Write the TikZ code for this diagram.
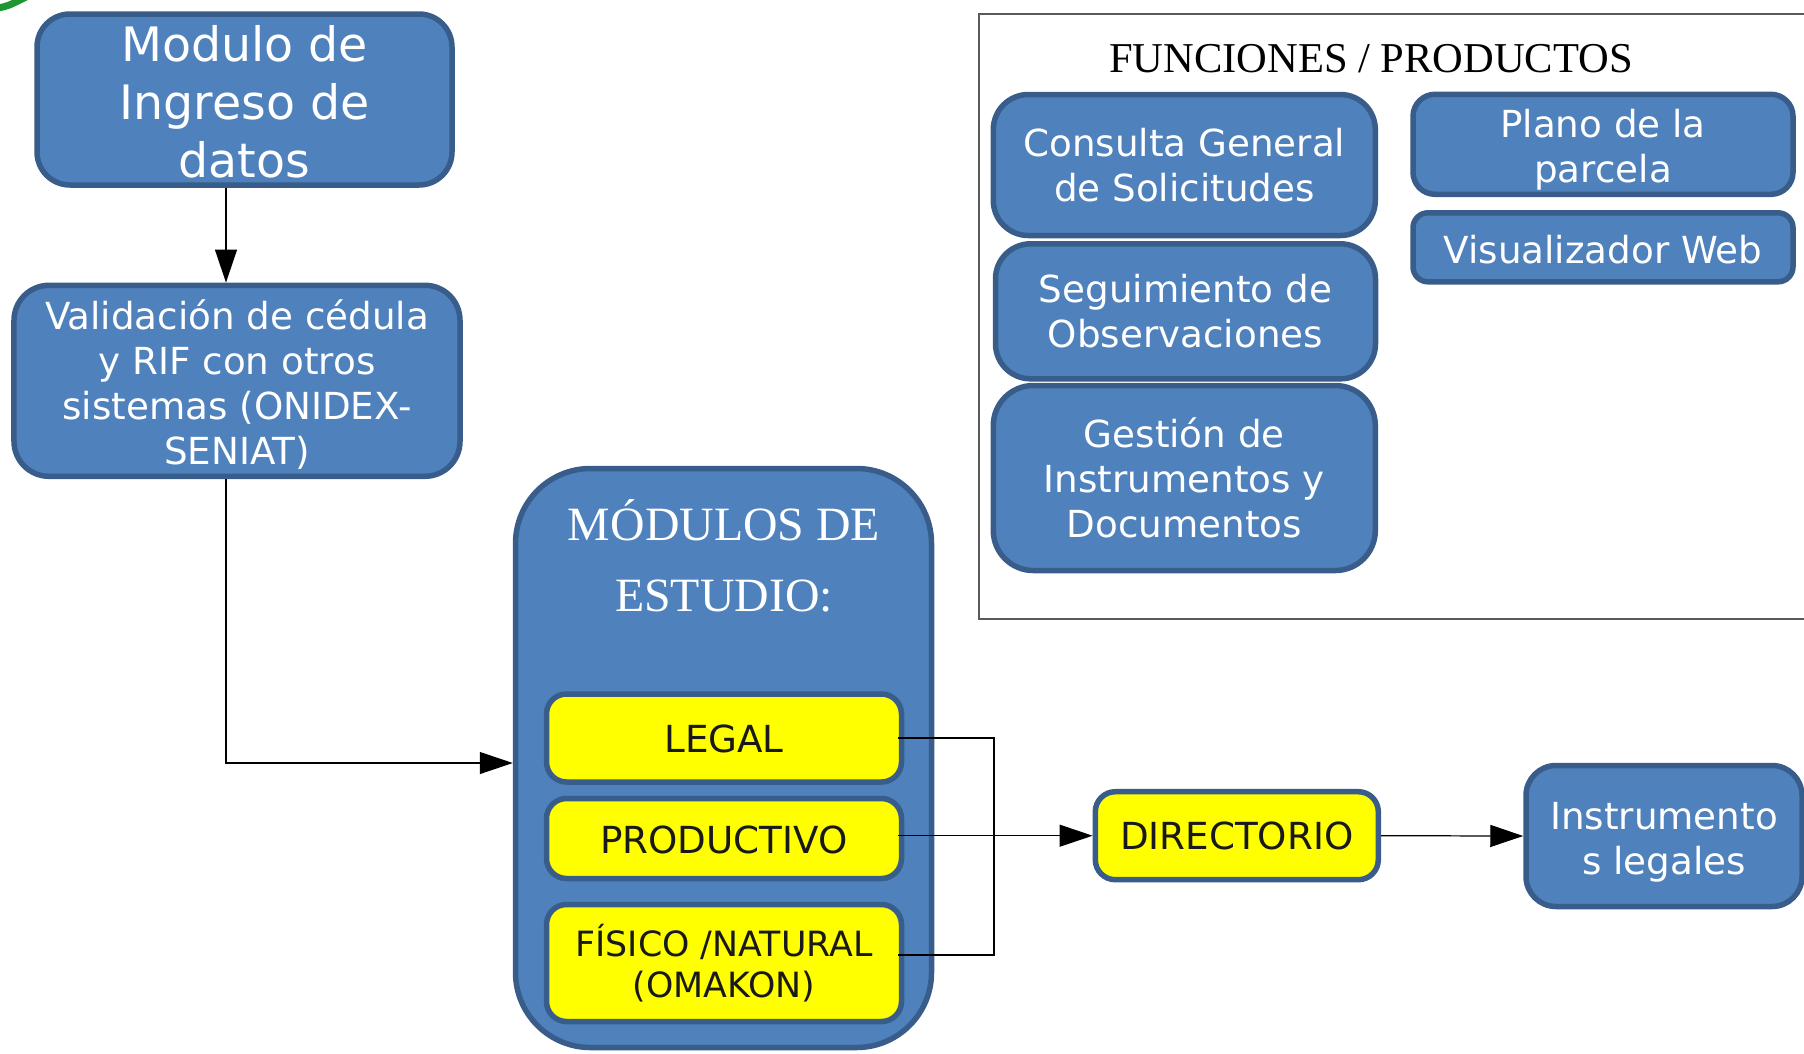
\documentclass[tikz,border=0pt]{standalone}
\usepackage{fontspec}
\setmainfont{DejaVu Sans}
\newfontfamily\titlefont{Liberation Serif}
\usetikzlibrary{arrows.meta}
\definecolor{boxblue}{RGB}{79,129,189}
\definecolor{boxedge}{RGB}{56,93,138}
\definecolor{boxyellow}{RGB}{255,255,0}
\definecolor{leafgreen}{RGB}{30,150,50}
% taller first line, pushes the text a little down in its box
\newcommand{\padtop}[1]{\rule{0pt}{#1}}

\begin{document}
\begin{tikzpicture}[x=1cm,y=-1cm,
	bluebox/.style={draw=boxedge,fill=boxblue,line width=0.055cm,text=white,align=center,inner sep=0pt,font=\fontsize{10.6}{12.8}\selectfont},
	yellowbox/.style={draw=boxedge,fill=boxyellow,line width=0.055cm,text=black!90,align=center,inner sep=0pt,rounded corners=0.2cm,font=\fontsize{10.6}{12.8}\selectfont},
	link/.style={line width=0.35pt,black},
	tip/.style={-{Triangle[length=0.33cm,width=0.22cm]}}
	]
	\useasboundingbox (0,0) rectangle (18.04,10.53);
	% bit of the green shape in the corner
	\draw[leafgreen,line width=0.07cm] (-0.02,0.08) .. controls (0.08,0.06) .. (0.26,-0.03);

	% left column
	\node[bluebox,rounded corners=0.33cm,minimum width=4.15cm,minimum height=1.71cm,font=\fontsize{13.5}{16.4}\selectfont] (ingreso) at (2.445,0.995) {\padtop{11.6pt}Modulo de\\Ingreso de\\datos};
	\node[bluebox,rounded corners=0.35cm,minimum width=4.46cm,minimum height=1.91cm] (valida) at (2.37,3.808) {\padtop{10.6pt}Validación de cédula\\y RIF con otros\\sistemas (ONIDEX-\\SENIAT)};
	\coordinate (trunk) at (2.26,0);

	% study modules
	\node[draw=boxedge,fill=boxblue,line width=0.055cm,rounded corners=0.75cm,minimum width=4.16cm,minimum height=5.79cm] (estudio) at (7.235,7.58) {};
	\node[text=white,align=center,font=\titlefont\fontsize{13.6}{20.2}\selectfont] (estudioTitle) at (7.24,5.56) {MÓDULOS DE\\ESTUDIO:};
	\node[yellowbox,minimum width=3.55cm,minimum height=0.88cm] (legal) at (7.24,7.38) {\padtop{8.6pt}LEGAL};
	\node[yellowbox,minimum width=3.55cm,minimum height=0.80cm] (prod) at (7.24,8.385) {\padtop{8.6pt}PRODUCTIVO};
	\node[yellowbox,minimum width=3.55cm,minimum height=1.17cm,font=\fontsize{9.9}{11.7}\selectfont] (fisico) at (7.24,9.63) {FÍSICO /NATURAL\\(OMAKON)};
	\coordinate (bus) at (9.94,0);

	\node[yellowbox,minimum width=2.83cm,minimum height=0.88cm] (directorio) at (12.368,8.357) {DIRECTORIO};
	\node[bluebox,rounded corners=0.3cm,minimum width=2.76cm,minimum height=1.41cm] (instr) at (16.64,8.36) {\padtop{11.4pt}Instrumento\\s legales};

	% functions / products panel
	\draw[black!65,line width=0.5pt] (18.04,0.14) -- (9.79,0.14) -- (9.79,6.19) -- (18.04,6.19);
	\node[anchor=base,font=\titlefont\fontsize{12.1}{14}\selectfont] (funcTitle) at (13.71,0.725) {FUNCIONES / PRODUCTOS};
	\node[bluebox,rounded corners=0.35cm,minimum width=3.82cm,minimum height=1.41cm] (consulta) at (11.843,1.65) {Consulta General\\de Solicitudes};
	\node[bluebox,rounded corners=0.35cm,minimum width=3.80cm,minimum height=1.35cm] (seguim) at (11.855,3.113) {Seguimiento de\\Observaciones};
	\node[bluebox,rounded corners=0.4cm,minimum width=3.82cm,minimum height=1.85cm] (gestion) at (11.843,4.78) {Gestión de\\Instrumentos y\\Documentos};
	\node[bluebox,rounded corners=0.22cm,minimum width=3.80cm,minimum height=1.0cm] (plano) at (16.03,1.443) {\padtop{11.4pt}Plano de la\\parcela};
	\node[bluebox,rounded corners=0.15cm,minimum width=3.80cm,minimum height=0.69cm] (visor) at (16.03,2.473) {\padtop{9.4pt}Visualizador Web};

	% connectors
	\draw[link,tip] (ingreso.south -| trunk) -- (valida.north -| trunk);
	\draw[link,tip] (valida.south -| trunk) |- ([yshift=-0.05cm]estudio.west);
	\draw[link] ([xshift=-0.06cm]legal.east) -- (legal.east -| bus) -- ([yshift=0.08cm]fisico.east -| bus) -- ([xshift=-0.06cm,yshift=0.08cm]fisico.east);
	\draw[link,tip] ([xshift=-0.06cm]prod.east |- directorio.west) -- (directorio.west);
	\draw[link,tip] (directorio.east) -- (instr.west);
\end{tikzpicture}
\end{document}
